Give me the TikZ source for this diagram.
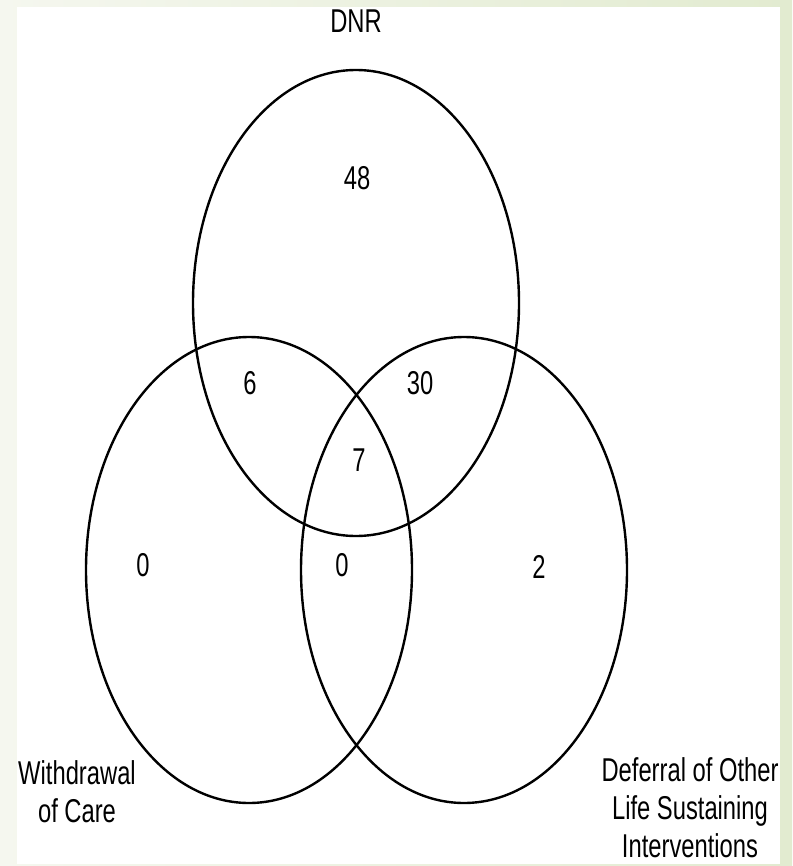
\documentclass[tikz,border=0pt]{standalone}
\usepackage{fontspec}
\setmainfont{Liberation Sans}[FakeStretch=0.72]
\tikzset{
  venn/.style={draw=black, line width=2.4pt},
  lbl/.style={inner sep=0pt, font=\fontsize{33}{38}\selectfont, text=black},
}
\begin{document}
\begin{tikzpicture}[x=1pt,y=-1pt]
\useasboundingbox (0,0) rectangle (792,866);
\shade[left color={rgb,255:red,245;green,247;blue,239}, right color={rgb,255:red,226;green,235;blue,208}] (0,0) rectangle (792,866);
\fill[white] (17,7) rectangle (780,864);
% ellipses
\draw[venn] (356,303) ellipse [x radius=163pt, y radius=233pt];
\draw[venn] (249,570) ellipse [x radius=163pt, y radius=233pt];
\draw[venn] (464,570) ellipse [x radius=163pt, y radius=233pt];
% labels
\node[lbl] (dnr) at (356,21) {DNR};
\node[lbl] (n48) at (357,178) {48};
\node[lbl] (n6) at (250,383) {6};
\node[lbl] (n30) at (420,383) {30};
\node[lbl] (n7) at (359,460) {7};
\node[lbl] (n0a) at (143,565) {0};
\node[lbl] (n0b) at (342,565) {0};
\node[lbl] (n2) at (539,567) {2};
\node[lbl, align=center] (wdc) at (77,792) {Withdrawal\\of Care};
\node[lbl, align=center] (dol) at (690,808) {Deferral of Other\\Life Sustaining\\Interventions};
\end{tikzpicture}
\end{document}
